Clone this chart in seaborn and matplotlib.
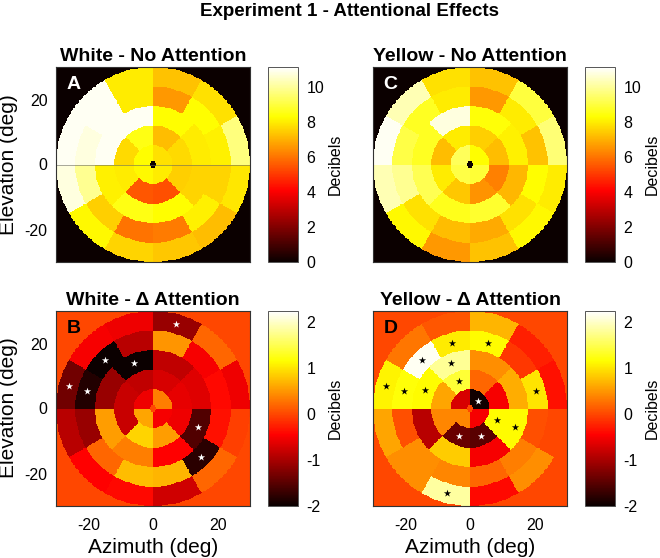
import numpy as np
import matplotlib
matplotlib.use('Agg')
import matplotlib.pyplot as plt
import seaborn as sns

# ring layout of the stimulus map (deg), sectors per ring counted CCW from +azimuth
ring_edges = [1, 6, 12, 18, 24, 30]
sectors_per_ring = [4, 8, 8, 12, 12]

# White - No Attention (dB), one list per ring
white_base_r1 = [7.8, 8.3, 8.2, 8.0]
white_base_r2 = [7.7, 7.2, 8.5, 7.7, 8.0, 5.5, 5.4, 7.5]
white_base_r3 = [8.0, 8.3, 11.0, 11.0, 8.1, 8.5, 8.3, 7.6]
white_base_r4 = [8.1, 8.3, 6.6, 8.0, 11.0, 10.8, 9.9, 7.5, 6.0, 6.1, 8.1, 7.6]
white_base_r5 = [9.7, 7.8, 7.3, 8.0, 11.0, 11.0, 10.8, 8.2, 7.6, 7.4, 7.2, 7.9]

# Yellow - No Attention (dB)
yellow_base_r1 = [8.3, 9.3, 9.1, 8.9]
yellow_base_r2 = [7.2, 7.5, 8.0, 7.2, 8.0, 7.4, 6.5, 6.2]
yellow_base_r3 = [8.1, 8.4, 10.8, 8.7, 9.2, 8.6, 8.8, 7.1]
yellow_base_r4 = [7.3, 8.0, 6.6, 8.0, 8.7, 9.1, 9.9, 7.8, 7.2, 6.9, 7.8, 8.3]
yellow_base_r5 = [9.6, 9.0, 7.3, 7.8, 10.3, 11.0, 10.3, 8.2, 6.6, 7.3, 8.2, 8.0]

# White - delta attention (dB)
white_delta_r1 = [0.35, -0.55, 0.6, -0.5]
white_delta_r2 = [-0.6, -0.7, -0.85, -0.8, -0.8, 0.9, 0.55, -0.55]
white_delta_r3 = [-0.65, -0.85, -2.0, -1.1, 0.55, 0.35, -0.45, -1.55]
white_delta_r4 = [-0.4, -0.5, 0.5, -0.9, -2.0, -1.85, -1.1, 0.2, 0.75, 0.7, -1.8, -0.35]
white_delta_r5 = [-0.55, 0.2, -1.1, -0.55, -0.5, -1.35, -0.9, -0.45, -0.4, -0.75, 0.2, -0.05]

# Yellow - delta attention (dB)
yellow_delta_r1 = [-1.95, -0.7, 0.4, -0.5]
yellow_delta_r2 = [-0.5, 0.2, 1.4, 0.6, 0.4, -1.4, -1.5, 1.15]
yellow_delta_r3 = [0.65, 0.45, 1.8, 1.15, -0.9, 0.85, -0.5, 1.15]
yellow_delta_r4 = [1.0, -0.1, 1.15, 1.05, 2.2, 1.2, 0.05, 0.45, 0.4, 0.2, 0.35, 0.05]
yellow_delta_r5 = [-0.35, -0.25, 0.7, 0.1, 0.3, 1.1, 0.6, 0.45, 1.85, -0.4, 0.45, 0.0]

# significant sectors: (ring index, sector index)
white_delta_sig = [(4, 2), (4, 5), (3, 4), (3, 5), (3, 10), (2, 2), (2, 7)]
yellow_delta_sig = [(0, 0), (1, 2), (1, 5), (1, 6), (1, 7), (2, 2), (2, 3), (2, 7),
                    (3, 0), (3, 2), (3, 3), (3, 4), (3, 5), (4, 5), (4, 8)]
# sectors dark enough that the star is drawn in white
yellow_delta_white_stars = [(0, 0), (1, 5), (1, 6)]

N = 240  # grid cells across the 60 deg field


def build_field(rings):
    x = (np.arange(N) + 0.5) / N * 60 - 30
    y = 30 - (np.arange(N) + 0.5) / N * 60
    X, Y = np.meshgrid(x, y)
    R = np.hypot(X, Y)
    T = np.degrees(np.arctan2(Y, X)) % 360
    Z = np.zeros_like(R)
    for i, vals in enumerate(rings):
        mask = (R >= ring_edges[i]) & (R < ring_edges[i + 1])
        k = (T // (360 / len(vals))).astype(int) % len(vals)
        Z[mask] = np.asarray(vals)[k[mask]]
    return Z


def sector_centre(ring, sector):
    r = (ring_edges[ring] + ring_edges[ring + 1]) / 2
    if ring == 0:
        r = 3.4
    n = sectors_per_ring[ring]
    a = np.radians((sector + 0.5) * 360 / n)
    x, y = r * np.cos(a), r * np.sin(a)
    return (x + 30) * N / 60, (30 - y) * N / 60


sns.set_theme(style='white')
plt.rcParams['font.family'] = ['Liberation Sans', 'DejaVu Sans']
plt.rcParams['axes.unicode_minus'] = False
plt.rcParams['text.color'] = 'black'
plt.rcParams['axes.labelcolor'] = 'black'
plt.rcParams['xtick.labelcolor'] = 'black'
plt.rcParams['ytick.labelcolor'] = 'black'

fig = plt.figure(figsize=(6.6, 5.58), dpi=100)
W, H = 660, 558


def box(left, top, w, h):
    return [left / W, 1 - (top + h) / H, w / W, h / H]


panels = [
    dict(rings=[white_base_r1, white_base_r2, white_base_r3, white_base_r4, white_base_r5],
         title='White - No Attention', letter='A', lcol='white', left=56, top=67,
         vmin=0, vmax=11.15, cticks=[0, 2, 4, 6, 8, 10], sig=[], white_stars='all'),
    dict(rings=[yellow_base_r1, yellow_base_r2, yellow_base_r3, yellow_base_r4, yellow_base_r5],
         title='Yellow - No Attention', letter='C', lcol='white', left=373, top=67,
         vmin=0, vmax=11.15, cticks=[0, 2, 4, 6, 8, 10], sig=[], white_stars='all'),
    dict(rings=[white_delta_r1, white_delta_r2, white_delta_r3, white_delta_r4, white_delta_r5],
         title='White - \u0394 Attention', letter='B', lcol='black', left=56, top=311,
         vmin=-2, vmax=2.25, cticks=[-2, -1, 0, 1, 2], sig=white_delta_sig, white_stars='all'),
    dict(rings=[yellow_delta_r1, yellow_delta_r2, yellow_delta_r3, yellow_delta_r4, yellow_delta_r5],
         title='Yellow - \u0394 Attention', letter='D', lcol='black', left=373, top=311,
         vmin=-2, vmax=2.25, cticks=[-2, -1, 0, 1, 2], sig=yellow_delta_sig,
         white_stars=yellow_delta_white_stars),
]

tick_pos = [(v + 30) * N / 60 for v in (-20, 0, 20)]
frame = '#333333'

for p in panels:
    ax = fig.add_axes(box(p['left'], p['top'], 194, 195))
    cax = fig.add_axes(box(p['left'] + 212, p['top'], 30, 195))
    Z = build_field(p['rings'])
    sns.heatmap(Z, ax=ax, cmap='hot', vmin=p['vmin'], vmax=p['vmax'],
                cbar_ax=cax, cbar_kws={'ticks': p['cticks']},
                xticklabels=False, yticklabels=False, rasterized=True)

    for s in ax.spines.values():
        s.set_visible(True)
        s.set_color(frame)
        s.set_linewidth(0.8)
    ax.set_xticks(tick_pos)
    ax.set_yticks(tick_pos)
    ax.set_xticklabels(['-20', '0', '20'])
    ax.set_yticklabels(['20', '0', '-20'], rotation=0)
    is_top = p['top'] < 100
    is_left = p['left'] < 100
    ax.tick_params(axis='both', direction='in', length=4, width=0.7, color=frame,
                   top=True, right=True, bottom=True, left=True,
                   labelbottom=not is_top, labelleft=is_left, labelsize=11.5,
                   labelcolor='black')
    ax.tick_params(axis='x', pad=9)
    ax.tick_params(axis='y', pad=6)

    if p['letter'] == 'A':
        ax.axhline(N / 2, color='#666666', lw=0.4)

    for ring, sector in p['sig']:
        cx, cy = sector_centre(ring, sector)
        if p['white_stars'] == 'all' or (ring, sector) in p['white_stars']:
            c = 'white'
        else:
            c = 'black'
        ax.scatter(cx, cy, marker='*', s=30, color=c, linewidths=0, zorder=5)

    ax.text(0.055, 0.955, p['letter'], transform=ax.transAxes, ha='left', va='top',
            fontsize=14, fontweight='bold', color=p['lcol'])
    ax.set_title(p['title'], fontsize=14, fontweight='bold', pad=4, color='black')

    cb = ax.collections[0].colorbar
    cb.outline.set_edgecolor('#555555')
    cb.outline.set_linewidth(0.7)
    cax.tick_params(direction='in', length=3, width=0.7, color=frame,
                    labelsize=11.5, pad=6, labelcolor='black')
    fig.text((p['left'] + 212 + 30 + 37) / W, 1 - (p['top'] + 97) / H, 'Decibels',
             rotation=90, ha='center', va='center', fontsize=11.5)

fig.text(9 / W, 1 - 165 / H, 'Elevation (deg)', rotation=90, ha='center', va='center', fontsize=15)
fig.text(9 / W, 1 - 408 / H, 'Elevation (deg)', rotation=90, ha='center', va='center', fontsize=15)
fig.text(153 / W, 1 - 553 / H, 'Azimuth (deg)', ha='center', va='baseline', fontsize=15)
fig.text(470 / W, 1 - 553 / H, 'Azimuth (deg)', ha='center', va='baseline', fontsize=15)
fig.text(349 / W, 1 - 16 / H, 'Experiment 1 - Attentional Effects', ha='center',
         va='baseline', fontsize=13.5, fontweight='bold')

fig.savefig('out.png', dpi=100, facecolor='white')
plt.close(fig)
